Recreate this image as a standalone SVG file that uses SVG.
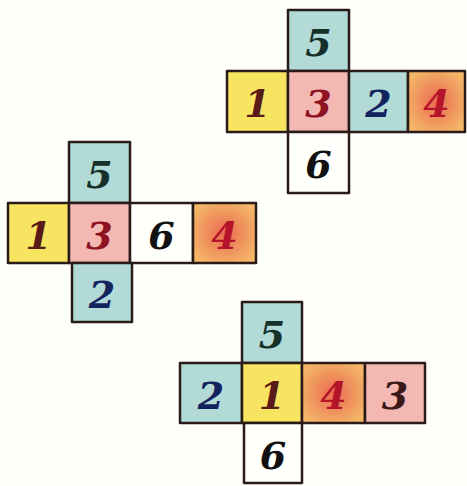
<svg xmlns="http://www.w3.org/2000/svg" width="467" height="486" viewBox="0 0 467 486">
<style>
.bg{fill:#fefefa}
.c{stroke:#2a1a18;stroke-width:2.5;stroke-linejoin:round}
.y{fill:#f7e460}
.p{fill:#f3b8b2}
.t{fill:#b2dbd8}
.o{fill:url(#og)}
.w{fill:#fffffb}
text{font-family:"DejaVu Serif","Liberation Serif",serif;font-weight:bold;font-style:italic;font-size:38px;text-anchor:middle;dominant-baseline:central}
.d5{fill:#16302a}.d1{fill:#5a1a18}.d3{fill:#8e1322}.d2{fill:#13235e}.d4{fill:#b5142a}.d6{fill:#111}.dk{fill:#3a1a18}
</style>
<defs>
<radialGradient id="og" cx="0.5" cy="0.5" r="0.6">
<stop offset="0" stop-color="#ea6a52"/>
<stop offset="1" stop-color="#f4b868"/>
</radialGradient>
</defs>
<rect class="bg" x="0" y="0" width="467" height="486"/>
<g id="net1">
<g id="n1-5"><rect class="c t" x="288" y="10" width="61" height="61"/><text class="d5" x="318.5" y="42">5</text></g>
<g id="n1-1"><rect class="c y" x="227" y="71" width="61" height="61"/><text class="d1" x="257.5" y="103">1</text></g>
<g id="n1-3"><rect class="c p" x="288" y="71" width="61" height="61"/><text class="d3" x="318.5" y="103">3</text></g>
<g id="n1-2"><rect class="c t" x="349" y="71" width="59" height="61"/><text class="d2" x="378.5" y="103">2</text></g>
<g id="n1-4"><rect class="c o" x="408" y="71" width="57" height="61"/><text class="d4" x="436.5" y="103">4</text></g>
<g id="n1-6"><rect class="c w" x="288" y="132" width="61" height="61"/><text class="d6" x="318.5" y="164">6</text></g>
</g>
<g id="net2">
<g id="n2-5"><rect class="c t" x="69" y="142" width="61" height="61"/><text class="d5" x="99.5" y="174">5</text></g>
<g id="n2-1"><rect class="c y" x="8" y="203" width="61" height="60"/><text class="d1" x="38.5" y="235">1</text></g>
<g id="n2-3"><rect class="c p" x="69" y="203" width="61" height="60"/><text class="d3" x="99.5" y="235">3</text></g>
<g id="n2-6"><rect class="c w" x="130" y="203" width="63" height="60"/><text class="d6" x="161.5" y="235">6</text></g>
<g id="n2-4"><rect class="c o" x="193" y="203" width="63" height="60"/><text class="d4" x="224.5" y="235">4</text></g>
<g id="n2-2"><rect class="c t" x="72" y="263" width="60" height="59"/><text class="d2" x="102" y="294">2</text></g>
</g>
<g id="net3">
<g id="n3-5"><rect class="c t" x="242" y="302" width="60" height="61"/><text class="d5" x="272" y="334">5</text></g>
<g id="n3-2"><rect class="c t" x="180" y="363" width="62" height="60"/><text class="d2" x="211" y="395">2</text></g>
<g id="n3-1"><rect class="c y" x="242" y="363" width="60" height="60"/><text class="d1" x="272" y="395">1</text></g>
<g id="n3-4"><rect class="c o" x="302" y="363" width="63" height="60"/><text class="d4" x="333.5" y="395">4</text></g>
<g id="n3-3"><rect class="c p" x="365" y="363" width="60" height="60"/><text class="dk" x="395" y="395">3</text></g>
<g id="n3-6"><rect class="c w" x="244" y="423" width="58" height="60"/><text class="d6" x="273" y="455">6</text></g>
</g>
</svg>
